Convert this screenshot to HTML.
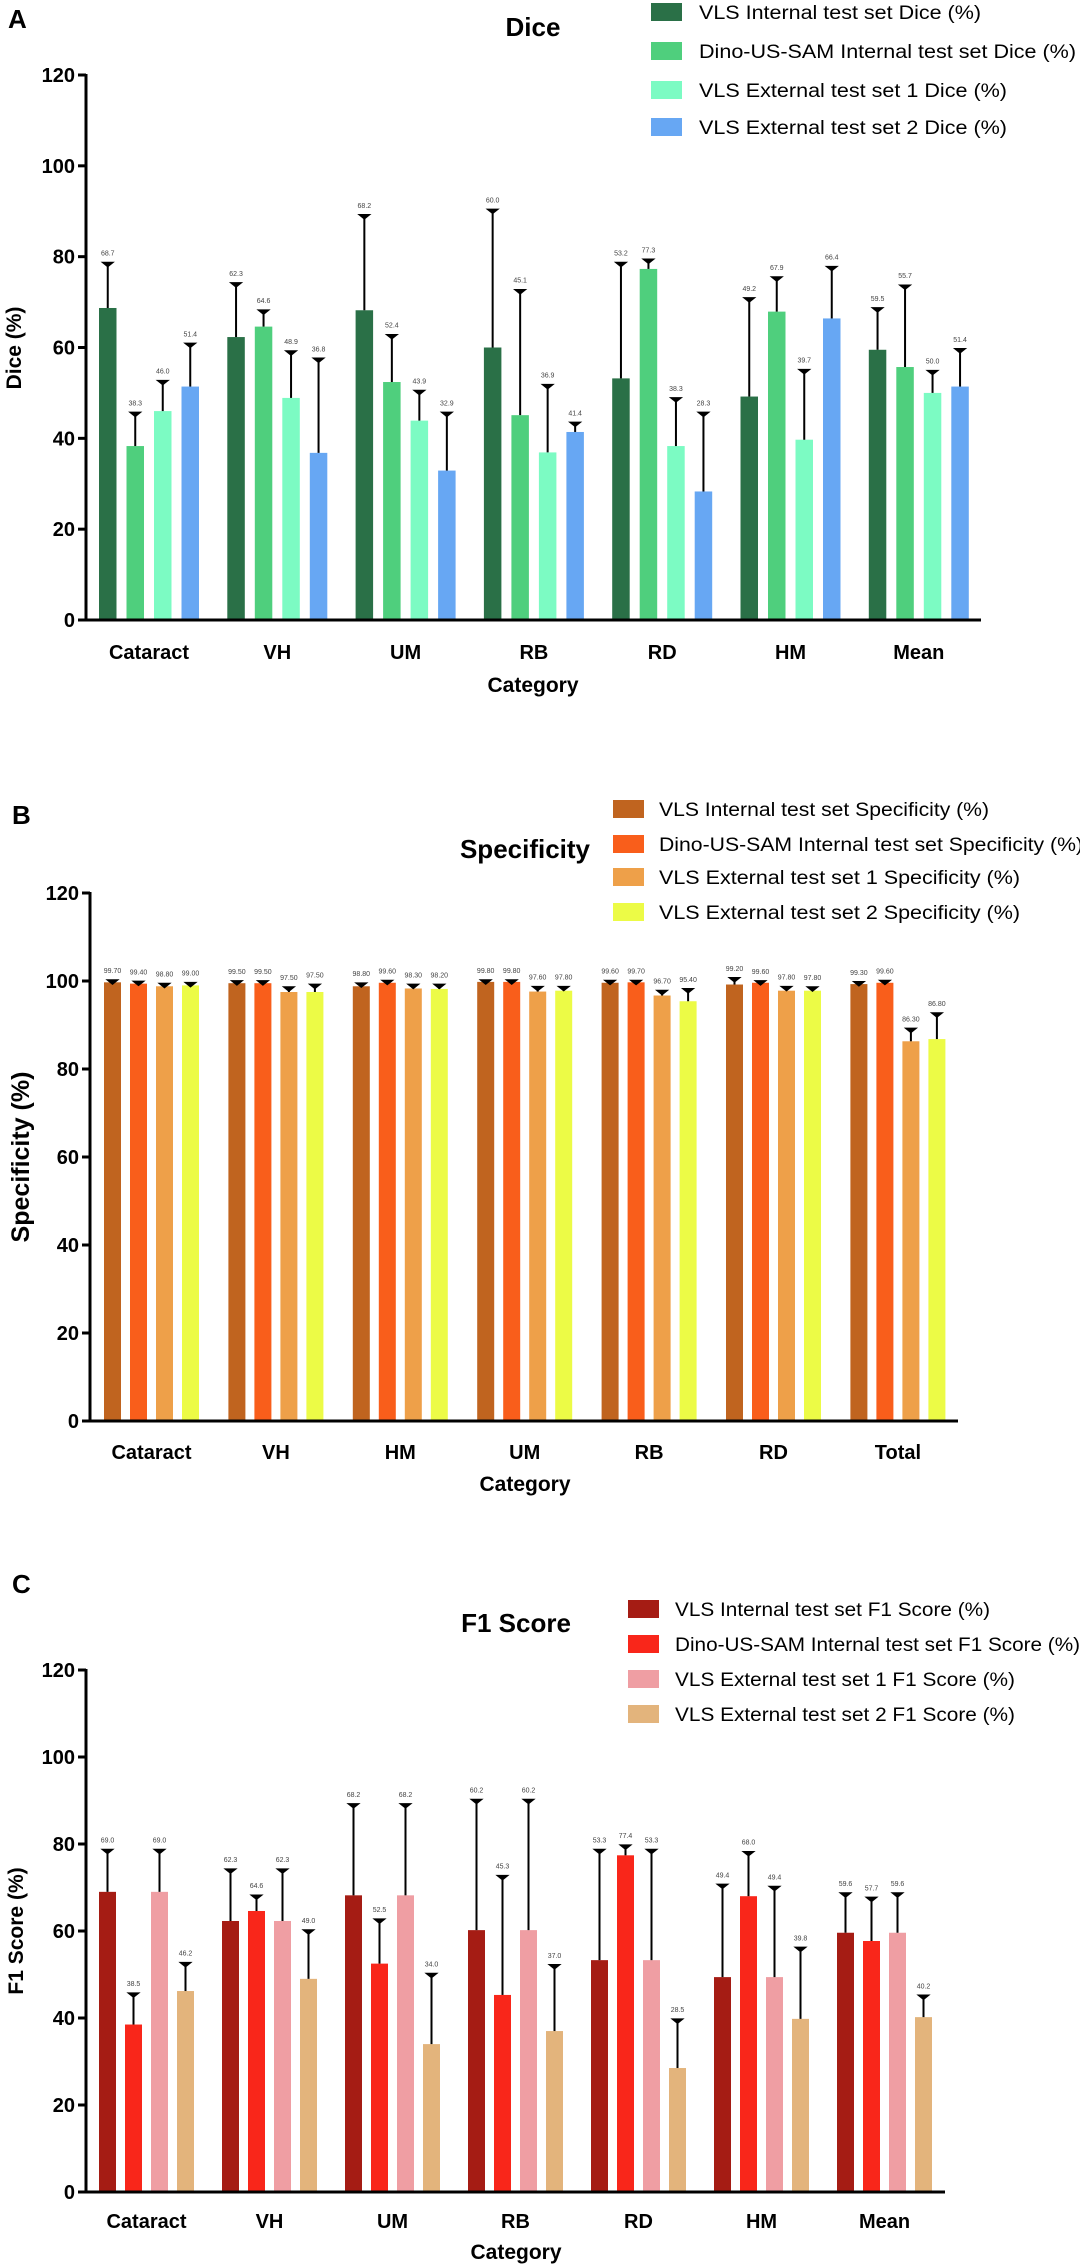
<!DOCTYPE html>
<html><head><meta charset="utf-8"><style>
body{margin:0;background:#fff}
svg{display:block;font-family:"Liberation Sans",sans-serif}
</style></head><body>
<svg id="root" width="1080" height="2265" viewBox="0 0 1080 2265"></svg>
<script>
// ---- Panel A data (Dice) ----
const catsA = ["Cataract","VH","UM","RB","RD","HM","Mean"];
const diceS1 = [68.7,62.3,68.2,60.0,53.2,49.2,59.5];
const diceS2 = [38.3,64.6,52.4,45.1,77.3,67.9,55.7];
const diceS3 = [46.0,48.9,43.9,36.9,38.3,39.7,50.0];
const diceS4 = [51.4,36.8,32.9,41.4,28.3,66.4,51.4];
const diceE1 = [78.5,74.0,89.0,90.2,78.5,70.7,68.5];
const diceE2 = [45.5,68.0,62.6,72.5,79.2,75.3,73.5];
const diceE3 = [52.5,59.0,50.3,51.6,48.7,54.9,54.7];
const diceE4 = [60.7,57.4,45.5,43.3,45.5,77.6,59.5];
// ---- Panel B data (Specificity) ----
const catsB = ["Cataract","VH","HM","UM","RB","RD","Total"];
const specS1 = [99.7,99.5,98.8,99.8,99.6,99.2,99.3];
const specS2 = [99.4,99.5,99.6,99.8,99.7,99.6,99.6];
const specS3 = [98.8,97.5,98.3,97.6,96.7,97.8,86.3];
const specS4 = [99.0,97.5,98.2,97.8,95.4,97.8,86.8];
const specE1 = [100,99.8,99.3,100,99.9,100.5,99.6];
const specE2 = [99.7,99.8,99.9,100,99.9,99.8,99.9];
const specE3 = [99.2,98.4,99.0,98.5,97.6,98.5,89.0];
const specE4 = [99.4,99.0,99.0,98.5,98.0,98.4,92.5];
// ---- Panel C data (F1) ----
const catsC = ["Cataract","VH","UM","RB","RD","HM","Mean"];
const f1S1 = [69.0,62.3,68.2,60.2,53.3,49.4,59.6];
const f1S2 = [38.5,64.6,52.5,45.3,77.4,68.0,57.7];
const f1S3 = [69.0,62.3,68.2,60.2,53.3,49.4,59.6];
const f1S4 = [46.2,49.0,34.0,37.0,28.5,39.8,40.2];
const f1E1 = [78.5,74.0,89.0,90.0,78.5,70.5,68.5];
const f1E2 = [45.5,68.0,62.5,72.5,79.5,78.0,67.5];
const f1E3 = [78.5,74.0,89.0,90.0,78.5,70.0,68.5];
const f1E4 = [52.5,60.0,50.0,52.0,39.5,56.0,45.0];
const yTicks = [0,20,40,60,80,100,120];

const NS="http://www.w3.org/2000/svg";
const root=document.getElementById('root');
function mk(tag,attrs,parent){const e=document.createElementNS(NS,tag);for(const k in attrs)e.setAttribute(k,attrs[k]);(parent||root).appendChild(e);return e;}

function panel(o){
  const g=mk('g',{});
  
  
  const y=v=>o.y0-(v/120)*(o.y0-o.y120);
  const step=(o.xEnd-o.ax-10)/o.cats.length;
  const cx=i=>o.c0+i*o.step;
  // letter
  const L=mk('text',{x:o.letterX,y:o.letterY,'font-size':26,'font-weight':'bold'},g);L.textContent=o.letter;
  
  const T=mk('text',{x:o.titleX,y:o.titleY,'font-size':26,'font-weight':'bold','text-anchor':'middle'},g);T.textContent=o.title;
  
  // bars
  o.series.forEach((s,si)=>{
    s.vals.forEach((v,i)=>{
      const bx=cx(i)+(si-1.5)*o.bstep-o.bw/2;
      const r=mk('rect',{x:bx,y:y(v),width:o.bw,height:y(0)-y(v),fill:o.colors[si]},g);
      
      
      const e=s.err[i],mx=bx+o.bw/2;
      const l=mk('line',{x1:mx,x2:mx,y1:y(v),y2:y(e),stroke:'#000','stroke-width':2},g);
      
      const c=mk('path',{d:`M${mx-5} ${y(e)-1}h10l-5 4z`,fill:'#000',stroke:'#000','stroke-width':1.5},g);
      
      const t=mk('text',{x:mx,y:y(e)-8,'font-size':7,fill:'#444','text-anchor':'middle'},g);
      t.textContent=v.toFixed(o.dec);
      
    });
  });
  // axes
  const ya=mk('line',{x1:o.ax,x2:o.ax,y1:o.y120-1,y2:y(0)+1.5,stroke:'#000','stroke-width':3},g);
  
  const xa=mk('line',{x1:o.ax-1.5,x2:o.xEnd,y1:y(0),y2:y(0),stroke:'#000','stroke-width':3},g);
  
  yTicks.forEach(t=>{
    mk('line',{x1:o.ax-8,x2:o.ax,y1:y(t),y2:y(t),stroke:'#000','stroke-width':3},g);
    const tl=mk('text',{x:o.ax-11,y:y(t)+7,'font-size':20,'font-weight':'bold','text-anchor':'end'},g);
    tl.textContent=t;
    
  });
  o.cats.forEach((c,i)=>{
    const cl=mk('text',{x:cx(i),y:o.catY,'font-size':20,'font-weight':'bold','text-anchor':'middle'},g);
    cl.textContent=c;
    
  });
  const xt=mk('text',{x:o.titleX,y:o.xTitleY,'font-size':21,'font-weight':'bold','text-anchor':'middle'},g);
  xt.textContent='Category';
  
  const yt=mk('text',{x:0,y:0,'font-size':o.ytSize,'font-weight':'bold','text-anchor':'middle',transform:`translate(${o.ytX},${o.ytY}) rotate(-90)`},g);
  yt.textContent=o.yTitle;
  
  // legend
  o.legend.forEach((txt,i)=>{
    const ly=o.legY[i];
    const sw=mk('rect',{x:o.legX,y:ly-9,width:o.legW,height:18,fill:o.colors[i]},g);
    
    const lt=mk('text',{x:o.legTX,y:ly+7,'font-size':19,textLength:o.legLen[i],lengthAdjust:'spacingAndGlyphs'},g);
    lt.textContent=txt;
    
  });
}

panel({name:'dice',letter:'A',letterX:8,letterY:28,title:'Dice',titleX:533,titleY:36,
  y0:620,y120:75,ax:86,xEnd:981,c0:149,step:128.3,bw:17.5,bstep:27.5,catY:659,xTitleY:692,
  cats:catsA,dec:1,colors:['#2a7047','#4fcf7d','#7cfbc3','#67a7f3'],
  series:[{vals:diceS1,err:diceE1},{vals:diceS2,err:diceE2},{vals:diceS3,err:diceE3},{vals:diceS4,err:diceE4}],
  yTitle:'Dice (%)',ytX:21,ytY:348,ytSize:21,
  legend:['VLS Internal test set Dice (%)','Dino-US-SAM Internal test set Dice (%)','VLS External test set 1 Dice (%)','VLS External test set 2 Dice (%)'],
  legX:651,legW:31,legTX:699,legY:[12,51,90,127],legLen:[282,377,308,308]});

panel({name:'specificity',letter:'B',letterX:12,letterY:824,title:'Specificity',titleX:525,titleY:858,
  y0:1421,y120:893,ax:90,xEnd:958,c0:151.5,step:124.4,bw:17,bstep:26,catY:1459,xTitleY:1491,
  cats:catsB,dec:2,colors:['#c0641f','#f95e1b','#eea049','#ecfb46'],
  series:[{vals:specS1,err:specE1},{vals:specS2,err:specE2},{vals:specS3,err:specE3},{vals:specS4,err:specE4}],
  yTitle:'Specificity (%)',ytX:29,ytY:1157,ytSize:25,
  legend:['VLS Internal test set Specificity (%)','Dino-US-SAM Internal test set Specificity (%)','VLS External test set 1 Specificity  (%)','VLS External test set 2 Specificity  (%)'],
  legX:613,legW:31,legTX:659,legY:[809,844,877,912],legLen:[330,424,361,361]});

panel({name:'f1-score',letter:'C',letterX:12,letterY:1593,title:'F1 Score',titleX:516,titleY:1632,
  y0:2192,y120:1670,ax:86,xEnd:945,c0:146.5,step:123,bw:17,bstep:26,catY:2228,xTitleY:2259,
  cats:catsC,dec:1,colors:['#a51c14','#f9261a','#ef9ea3','#e3b47c'],
  series:[{vals:f1S1,err:f1E1},{vals:f1S2,err:f1E2},{vals:f1S3,err:f1E3},{vals:f1S4,err:f1E4}],
  yTitle:'F1 Score (%)',ytX:23,ytY:1931,ytSize:21,
  legend:['VLS Internal test set F1 Score (%)','Dino-US-SAM Internal test set F1 Score (%)','VLS External test set 1 F1 Score (%)','VLS External test set 2 F1 Score (%)'],
  legX:628,legW:31,legTX:675,legY:[1609,1644,1679,1714],legLen:[315,405,340,340]});
</script>
</body></html>
